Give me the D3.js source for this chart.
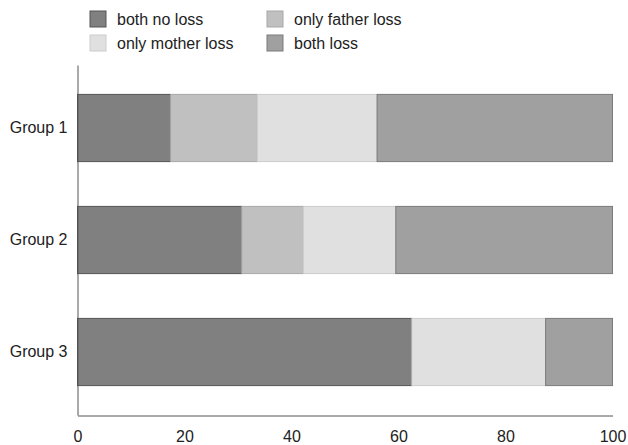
<!DOCTYPE html>
<html><head><meta charset="utf-8">
<script src="https://cdn.jsdelivr.net/npm/d3@7"></script>
<style>body{margin:0;background:#fff;} svg{display:block;font-family:"Liberation Sans",Arial,sans-serif;}</style>
</head><body>
<svg id="c" width="628" height="445"></svg>
<script>
const groups = ["Group 1", "Group 2", "Group 3"];
const seriesNames = ["both no loss", "only father loss", "only mother loss", "both loss"];
const bothNoLoss = [17.4, 30.7, 62.5];
const onlyFatherLoss = [16.2, 11.5, 0];
const onlyMotherLoss = [22.4, 17.3, 25.0];
const bothLoss = [44.0, 40.5, 12.5];
const xTicks = [0, 20, 40, 60, 80, 100];
const colors = ["#808080", "#c0c0c0", "#e0e0e0", "#a0a0a0"];
const strokes = ["#555555", "#a8a8a8", "#cccccc", "#7a7a7a"];

const rows = groups.map((g, i) => ({group: g, "both no loss": bothNoLoss[i], "only father loss": onlyFatherLoss[i], "only mother loss": onlyMotherLoss[i], "both loss": bothLoss[i]}));
const stacked = d3.stack().keys(seriesNames)(rows);

const svg = d3.select("#c");
const x = d3.scaleLinear().domain([0, 100]).range([77.5, 612.5]);
const y = d3.scaleBand().domain(groups).range([65, 415]).paddingInner(0.4).paddingOuter(0.2625);

stacked.forEach((s, si) => {
  svg.append("g").selectAll("rect").data(s).join("rect")
    .attr("x", d => x(d[0]))
    .attr("y", d => y(d.data.group))
    .attr("width", d => Math.max(0, x(d[1]) - x(d[0])))
    .attr("height", y.bandwidth())
    .attr("fill", colors[si])
    .attr("stroke", d => (d[1] - d[0]) > 0 ? strokes[si] : "none")
    .attr("stroke-width", 1);
});

// axes
const xAxis = d3.axisBottom(x).tickValues(xTicks).tickSize(0).tickPadding(15).tickFormat(d3.format("d"));
const gx = svg.append("g").attr("transform", "translate(0,415.5)").call(xAxis);
gx.select(".domain").attr("stroke", "#555");
gx.selectAll("text").attr("font-size", 16).attr("fill", "#222").attr("font-family", "Liberation Sans, Arial, sans-serif");

const yAxis = d3.axisLeft(y).tickSize(0).tickPadding(10);
const gy = svg.append("g").attr("transform", "translate(77.5,0)").call(yAxis);
gy.select(".domain").attr("stroke", "#555");
gy.selectAll("text").attr("font-size", 16).attr("fill", "#222").attr("font-family", "Liberation Sans, Arial, sans-serif");

// legend
const legPos = [[90, 11], [267, 11], [90, 35], [267, 35]];
seriesNames.forEach((n, i) => {
  const [lx, ly] = legPos[i];
  svg.append("rect").attr("x", lx).attr("y", ly).attr("width", 16).attr("height", 16)
    .attr("fill", colors[i]).attr("stroke", strokes[i]);
  svg.append("text").attr("x", lx + 27).attr("y", ly + 14).attr("font-size", 16)
    .attr("fill", "#222").text(n);
});
</script>
</body></html>
